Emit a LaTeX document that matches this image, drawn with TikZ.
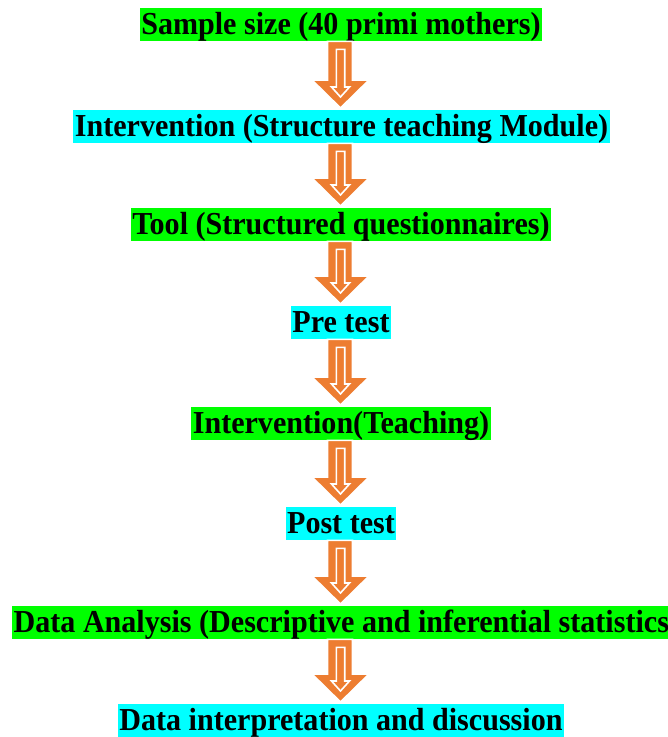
\documentclass[tikz,border=0pt]{standalone}
\usepackage{fontspec}
\setmainfont{Liberation Serif}[FakeStretch=0.94]
\usepackage{tikz}
\usepackage{xcolor}
\usetikzlibrary{calc}
\definecolor{boxgreen}{RGB}{0,255,0}
\definecolor{boxcyan}{RGB}{0,255,255}
\definecolor{arrorange}{RGB}{237,125,49}
\tikzstyle{fbox}=[rectangle, fill=boxgreen, text=black, inner xsep=1.5pt,
  inner ysep=0pt, text height=26pt, text depth=7pt,
  font=\fontsize{32}{36}\selectfont\bfseries]
% block arrow from the bottom of #1 to the top of #2, on the column (mid)
\newcommand{\flowarr}[2]{%
  \path let \p1=(#1.south), \p2=(#2.north), \p3=(mid) in
    [fill=arrorange] (\x3-13pt,\y1) -- (\x3-13pt,\y2+30pt)
      -- (\x3-28.5pt,\y2+30pt) -- (\x3,\y2+2pt) -- (\x3+28.5pt,\y2+30pt)
      -- (\x3+12pt,\y2+30pt) -- (\x3+12pt,\y1) -- cycle
    [draw=white, line width=1.6pt, fill=arrorange, line join=miter]
      (\x3-4.2pt,\y1-8pt) -- (\x3-4.2pt,\y2+23pt) -- (\x3-9pt,\y2+23pt)
      -- (\x3,\y2+13pt) -- (\x3+9pt,\y2+23pt) -- (\x3+4.2pt,\y2+23pt)
      -- (\x3+4.2pt,\y1-8pt) -- cycle;}

\begin{document}
\begin{tikzpicture}[x=1pt, y=-1pt]
    \useasboundingbox (0,0) rectangle (668,737);
    \coordinate (mid) at (340.5,0);
    \node[fbox, anchor=north] (size) at (341,8) {Sample size (40 primi mothers)};
    \node[fbox, fill=boxcyan, anchor=north] (interv) at (341.5,110) {Intervention (Structure teaching Module)};
    \node[fbox, anchor=north] (tool) at (341,208) {Tool (Structured questionnaires)};
    \node[fbox, fill=boxcyan, anchor=north] (pre) at (341,306) {Pre test};
    \node[fbox, anchor=north] (teach) at (341,407) {Intervention(Teaching)};
    \node[fbox, fill=boxcyan, anchor=north] (post) at (341,507) {Post test};
    \node[fbox, anchor=north west] (anal) at (12,606) {Data Analysis (Descriptive and inferential statistics};
    \node[fbox, fill=boxcyan, anchor=north] (interp) at (341,704) {Data interpretation and discussion};
    \flowarr{size}{interv}
    \flowarr{interv}{tool}
    \flowarr{tool}{pre}
    \flowarr{pre}{teach}
    \flowarr{teach}{post}
    \flowarr{post}{anal}
    \flowarr{anal}{interp}
  \end{tikzpicture}
\end{document}
